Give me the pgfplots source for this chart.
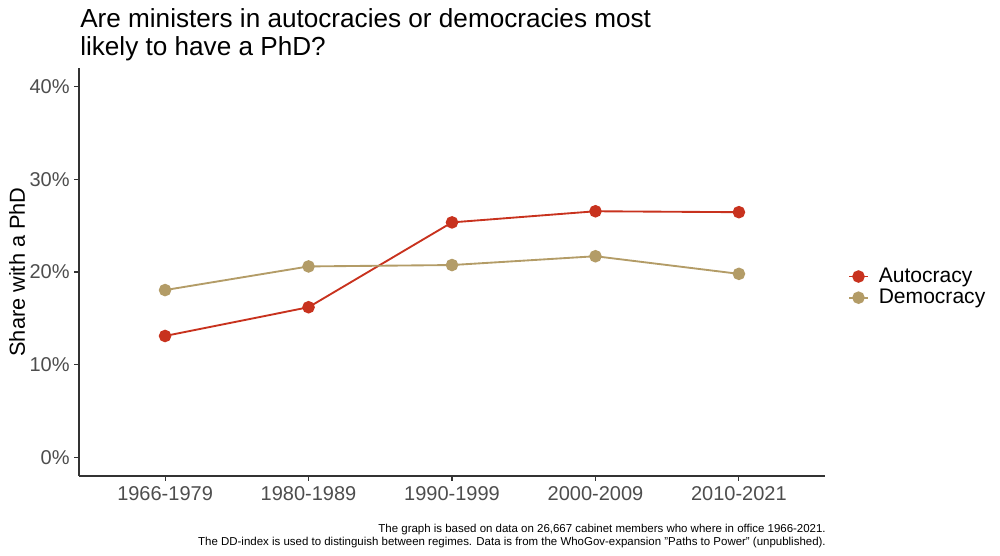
\documentclass[border=0pt]{standalone}
\usepackage{pgfplots}
\pgfplotsset{compat=1.18}
\usepackage{fontspec}
\setmainfont{Liberation Sans}
\definecolor{autoc}{HTML}{C8321E}
\definecolor{democ}{HTML}{B39C67}
\definecolor{tickgray}{HTML}{4D4D4D}
\begin{document}
\begin{tikzpicture}[x=0.75pt,y=0.75pt]
\path[use as bounding box] (0,0) rectangle (1000,556);
\begin{axis}[
  at={(59.25pt,60pt)}, anchor=south west,
  scale only axis, width=559.5pt, height=306pt,
  xmin=-0.6, xmax=4.6, ymin=-2, ymax=42,
  axis x line*=bottom, axis y line*=left,
  axis line style={draw=black!80, line width=0.8pt, -},
  xtick={0,1,2,3,4},
  xticklabels={1966-1979,1980-1989,1990-1999,2000-2009,2010-2021},
  ytick={0,10,20,30,40},
  yticklabels={0\%,10\%,20\%,30\%,40\%},
  tick align=outside, major tick length=3.5pt,
  tick style={draw=black!80, line width=0.8pt},
  ticklabel style={font=\fontsize{15}{18}\selectfont, text=tickgray},
  xticklabel style={yshift=-1pt},
  ylabel={Share with a PhD},
  ylabel style={font=\fontsize{16.3}{19}\selectfont, at={(axis description cs:-0.083,0.5)}, anchor=center},
  legend style={at={(axis description cs:1.029,0.463)}, anchor=west, draw=none, fill=none,
    font=\fontsize{15.8}{18}\selectfont, row sep=-0.5pt, inner sep=1pt,
    /tikz/every odd column/.append style={column sep=5.5pt}},
  legend cell align=left,
  legend image code/.code={\draw[#1] (0pt,0pt) -- (14pt,0pt); \path[#1] plot coordinates {(7pt,0pt)};},
  clip=false,
]
\addplot[autoc, line width=1.4pt, mark=*, mark size=4pt, mark options={solid, fill=autoc, draw=autoc}]
  coordinates {(0,13.1) (1,16.2) (2,25.35) (3,26.55) (4,26.45)};
\addlegendentry{Autocracy}
\addplot[democ, line width=1.4pt, mark=*, mark size=4pt, mark options={solid, fill=democ, draw=democ}]
  coordinates {(0,18.05) (1,20.6) (2,20.75) (3,21.7) (4,19.8)};
\addlegendentry{Democracy}
\end{axis}
\node[anchor=north west, align=left, font=\fontsize{19.6}{21.3}\selectfont, inner sep=0pt] at (80,548) {Are ministers in autocracies or democracies most\\likely to have a PhD?};
\node[anchor=south east, align=right, font=\fontsize{8.6}{9.8}\selectfont, inner sep=0pt] at (826,8) {The graph is based on data on 26,667 cabinet members who where in office 1966-2021.\\The DD-index is used to distinguish between regimes. Data is from the WhoGov-expansion \symbol{34}Paths to Power\symbol{34} (unpublished).};
\end{tikzpicture}
\end{document}
